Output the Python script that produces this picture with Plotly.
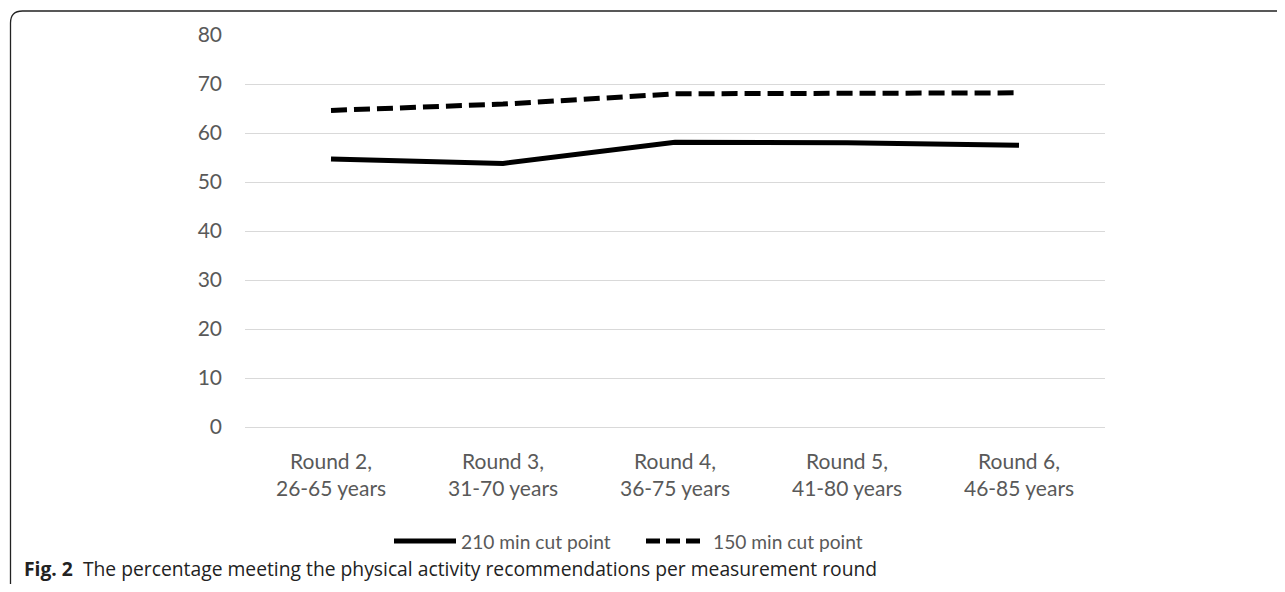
import plotly.graph_objects as go

categories = ["Round 2,<br>26-65 years", "Round 3,<br>31-70 years", "Round 4,<br>36-75 years",
              "Round 5,<br>41-80 years", "Round 6,<br>46-85 years"]
series_names = ["210 min cut point", "150 min cut point"]
cut210 = [54.7, 53.8, 58.1, 58.0, 57.5]
cut150 = [64.6, 65.9, 68.0, 68.1, 68.2]
y_ticks = [0, 10, 20, 30, 40, 50, 60, 70, 80]

# page has an 8px body margin; figure coordinates below are relative to the figure
OFF = 8
W, H = 1270, 576
L, T = 245 - OFF, 35 - OFF
R = W - (1105 - OFF)
B = H - (427 - OFF)
pw, ph = W - L - R, H - T - B

def px(x):
    return (x - OFF - L) / pw

def py(y):
    return (H - B - (y - OFF)) / ph

fig = go.Figure()
fig.add_trace(go.Scatter(x=categories, y=cut210, mode="lines", name=series_names[0],
                         line=dict(color="black", width=5), showlegend=False))
fig.add_trace(go.Scatter(x=categories, y=cut150, mode="lines", name=series_names[1],
                         line=dict(color="black", width=5, dash="16px,7px"), showlegend=False))

# rounded frame
x0, y0, x1, y1 = px(10.5), py(11), px(1330), py(640)
rx, ry = 12 / pw, 12 / ph
path = (f"M {x0},{y1} L {x0},{y0 - ry} Q {x0},{y0} {x0 + rx},{y0} L {x1},{y0}")
fig.add_shape(type="path", path=path, xref="paper", yref="paper",
              line=dict(color="#222222", width=1.3), layer="above")

# legend (drawn as line samples + labels)
leg_y = py(541)
fig.add_shape(type="line", xref="paper", yref="paper", x0=px(394), x1=px(456), y0=leg_y, y1=leg_y,
              line=dict(color="black", width=5))
fig.add_annotation(x=px(459), y=leg_y, xref="paper", yref="paper", xanchor="left", yanchor="middle",
                   showarrow=False, text=series_names[0],
                   font=dict(family="Lato", size=19.2, color="#595959"))
fig.add_shape(type="line", xref="paper", yref="paper", x0=px(646), x1=px(700), y0=leg_y, y1=leg_y,
              line=dict(color="black", width=5, dash="14px,6px"))
fig.add_annotation(x=px(711), y=leg_y, xref="paper", yref="paper", xanchor="left", yanchor="middle",
                   showarrow=False, text=series_names[1],
                   font=dict(family="Lato", size=19.2, color="#595959"))

fig.add_annotation(x=px(22), y=py(568), xref="paper", yref="paper", xanchor="left", yanchor="middle",
                   showarrow=False,
                   text="<b>Fig. 2</b>  The percentage meeting the physical activity recommendations per measurement round",
                   font=dict(family="Open Sans", size=19.3, color="#222222"))

fig.update_layout(
    width=W, height=H,
    margin=dict(l=L, r=R, t=T, b=B),
    paper_bgcolor="white", plot_bgcolor="white",
    font=dict(family="Lato", size=21, color="#595959"),
    showlegend=False,
    xaxis=dict(showgrid=False, showline=False, ticks="", tickfont=dict(size=21),
               range=[-0.5, 4.5], ticklabelstandoff=20),
    yaxis=dict(range=[0, 80], tickvals=y_ticks, showgrid=True, gridcolor="#d9d9d9", gridwidth=1,
               zeroline=True, zerolinecolor="#d9d9d9", zerolinewidth=1, showline=False,
               ticks="", ticklabelstandoff=22, tickfont=dict(size=21)),
)

fig.write_html("out.html")
